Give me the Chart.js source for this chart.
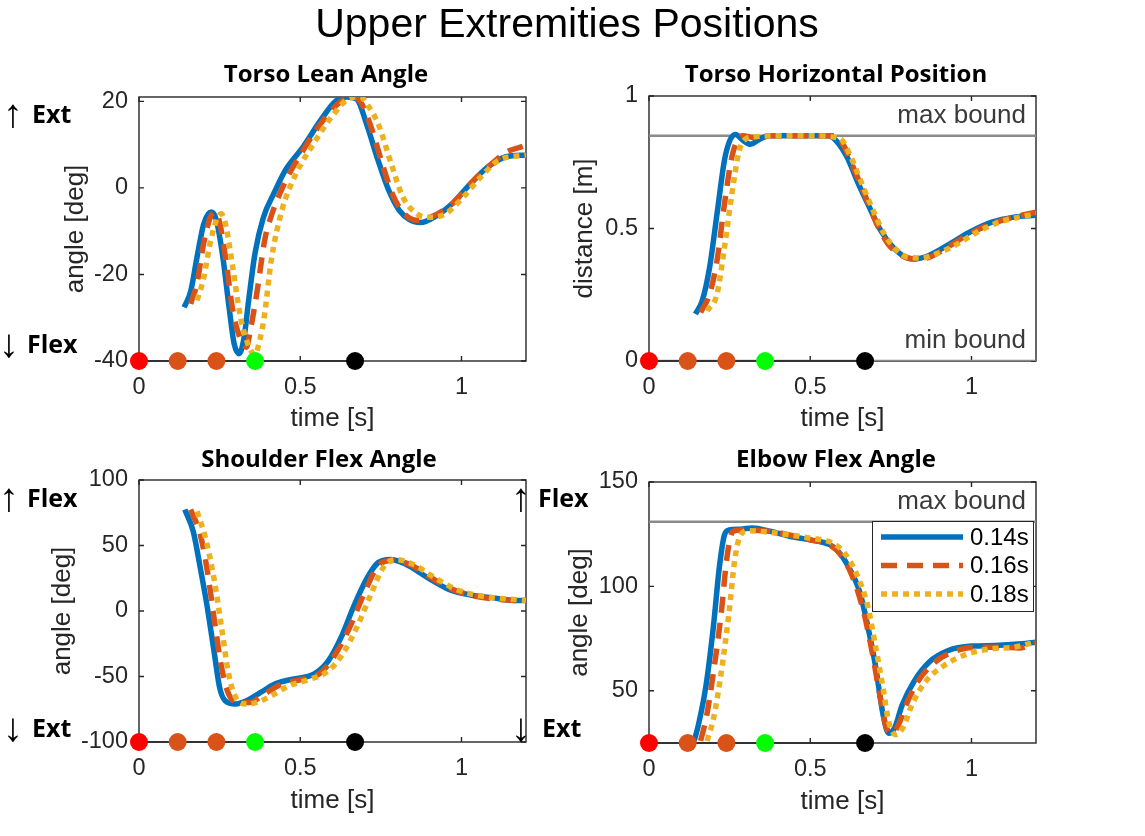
<!DOCTYPE html>
<html>
<head>
<meta charset="utf-8">
<title>Upper Extremities Positions</title>
<script src="https://cdn.jsdelivr.net/npm/chart.js@4.4.1/dist/chart.umd.min.js"></script>
<style>
  html, body { margin: 0; padding: 0; background: #fff; }
  #page { position: relative; width: 1145px; height: 836px; overflow: hidden; }
  #page canvas { position: absolute; }
  #labels { position: absolute; left: 0; top: 0; pointer-events: none; }
  .ttl { font-family: 'Open Sans', sans-serif; font-weight: 700; font-size: 24px; fill: #000; }
  .side { font-family: 'Open Sans', sans-serif; font-weight: 700; font-size: 25px; fill: #000; }
  .arrow { font-family: 'Liberation Sans', Arial, sans-serif; font-weight: 400; font-size: 40px; }
</style>
</head>
<body>
<div id="page">
  <canvas id="lean" width="560" height="390" style="left:0;top:50px"></canvas>
  <canvas id="horiz" width="585" height="390" style="left:560px;top:50px"></canvas>
  <canvas id="shoulder" width="560" height="396" style="left:0;top:440px"></canvas>
  <canvas id="elbow" width="585" height="396" style="left:560px;top:440px"></canvas>

  <svg id="labels" width="1145" height="836">
    <text x="567" y="37" text-anchor="middle" font-family="'Liberation Sans', Arial, sans-serif" font-size="41">Upper Extremities Positions</text>

    <text class="ttl" x="326" y="82" text-anchor="middle">Torso Lean Angle</text>
    <text class="ttl" x="836" y="82" text-anchor="middle">Torso Horizontal Position</text>
    <text class="ttl" x="319" y="467" text-anchor="middle">Shoulder Flex Angle</text>
    <text class="ttl" x="836" y="467" text-anchor="middle">Elbow Flex Angle</text>

    <text class="side" y="123"><tspan class="arrow" x="3" dy="4">↑</tspan><tspan x="32" dy="-4">Ext</tspan></text>
    <text class="side" y="353"><tspan class="arrow" x="-1" dy="4">↓</tspan><tspan x="27" dy="-4">Flex</tspan></text>
    <text class="side" y="507"><tspan class="arrow" x="-1" dy="4">↑</tspan><tspan x="27" dy="-4">Flex</tspan></text>
    <text class="side" y="737"><tspan class="arrow" x="3" dy="4">↓</tspan><tspan x="32" dy="-4">Ext</tspan></text>
    <text class="side" y="507"><tspan class="arrow" x="511" dy="4">↑</tspan><tspan x="538" dy="-4">Flex</tspan></text>
    <text class="side" y="737"><tspan class="arrow" x="511" dy="4">↓</tspan><tspan x="542" dy="-4">Ext</tspan></text>
  </svg>
</div>

<script>
const FONT = "'Liberation Sans', Arial, Helvetica, sans-serif";
const AXIS_COLOR = '#262626';

// series: start time of each run
const seriesLabels = ['0.14s', '0.16s', '0.18s'];
const seriesColors = ['#0072BD', '#D95319', '#EDB120'];
const seriesDash = [[], [16, 10], [6, 5]];

const timeTicks = [0, 0.5, 1];

// phase events along the time axis
const eventTimes = [0, 0.12, 0.24, 0.36, 0.67];
const eventColors = ['#FF0000', '#D95319', '#D95319', '#00FF00', '#000000'];

// Torso lean angle [deg]
const leanTicks = [-40, -20, 0, 20];
const leanT1 = [0.14, 0.16, 0.18, 0.2, 0.215, 0.225, 0.24, 0.26, 0.28, 0.295, 0.31, 0.325, 0.34, 0.36, 0.385, 0.42, 0.454, 0.509, 0.564, 0.609, 0.645, 0.675, 0.708, 0.741, 0.774, 0.807, 0.84, 0.873, 0.917, 0.972, 1.028, 1.083, 1.138, 1.2];
const leanY1 = [-27.6, -24, -16, -8.5, -6, -5.6, -7.5, -16, -28, -36, -38.3, -35, -26, -15, -7, -1, 4.1, 9.5, 15.7, 20, 21, 20.5, 14.2, 6.4, -0.5, -5.2, -7.4, -8, -6.7, -3.6, 1, 4.9, 7.2, 7.6];
const leanT2 = [0.16, 0.18, 0.2, 0.22, 0.234, 0.25, 0.27, 0.29, 0.31, 0.333, 0.345, 0.366, 0.39, 0.41, 0.454, 0.509, 0.564, 0.62, 0.664, 0.69, 0.719, 0.757, 0.785, 0.818, 0.862, 0.906, 0.972, 1.028, 1.083, 1.138, 1.19];
const leanY2 = [-26.8, -22, -13, -7, -5.6, -8, -17, -28, -34, -36.8, -33, -24, -12, -6.5, 1.5, 8.7, 14.9, 19.6, 21, 19.5, 14.2, 4.9, -1.3, -5.6, -7.5, -6.7, -3.6, 1, 4.9, 8.2, 9.6];
const leanT3 = [0.18, 0.2, 0.22, 0.24, 0.255, 0.27, 0.29, 0.315, 0.34, 0.36, 0.375, 0.388, 0.41, 0.443, 0.487, 0.542, 0.598, 0.653, 0.686, 0.71, 0.741, 0.785, 0.818, 0.862, 0.895, 0.95, 1.006, 1.061, 1.116, 1.2];
const leanY3 = [-26, -21, -13, -7.5, -6, -9, -18, -30, -36.5, -38.5, -35, -30, -16.8, -5.2, 3.3, 10.3, 16.5, 20.7, 21, 19, 14.9, 4.9, -2.1, -6, -6.8, -6, -2.1, 2.6, 6.4, 7.6];

// Torso horizontal position [m]
const horizTicks = [0, 0.5, 1];
const horizBounds = [0.85, 0];
const horizT1 = [0.144, 0.165, 0.188, 0.211, 0.234, 0.251, 0.268, 0.291, 0.315, 0.338, 0.372, 0.45, 0.556, 0.579, 0.614, 0.649, 0.683, 0.718, 0.752, 0.787, 0.821, 0.868, 0.925, 0.994, 1.063, 1.132, 1.2];
const horizY1 = [0.177, 0.227, 0.354, 0.556, 0.758, 0.833, 0.855, 0.833, 0.818, 0.833, 0.85, 0.85, 0.85, 0.833, 0.77, 0.669, 0.581, 0.494, 0.436, 0.398, 0.385, 0.398, 0.436, 0.486, 0.524, 0.543, 0.55];
const horizT2 = [0.16, 0.188, 0.211, 0.234, 0.257, 0.274, 0.291, 0.326, 0.36, 0.45, 0.575, 0.603, 0.637, 0.672, 0.706, 0.741, 0.775, 0.821, 0.868, 0.925, 0.994, 1.063, 1.132, 1.2];
const horizY2 = [0.183, 0.253, 0.379, 0.593, 0.77, 0.833, 0.85, 0.843, 0.85, 0.85, 0.85, 0.814, 0.72, 0.619, 0.518, 0.442, 0.404, 0.385, 0.391, 0.429, 0.48, 0.518, 0.543, 0.562];
const horizT3 = [0.18, 0.211, 0.234, 0.257, 0.28, 0.303, 0.326, 0.4, 0.5, 0.591, 0.626, 0.66, 0.695, 0.729, 0.764, 0.804, 0.844, 0.89, 0.948, 1.017, 1.086, 1.2];
const horizY3 = [0.189, 0.253, 0.429, 0.631, 0.795, 0.84, 0.846, 0.85, 0.85, 0.84, 0.77, 0.669, 0.568, 0.48, 0.423, 0.391, 0.389, 0.404, 0.436, 0.486, 0.524, 0.556];

// Shoulder flex angle [deg]
const shoulderTicks = [-100, -50, 0, 50, 100];
const shoulderT1 = [0.142, 0.168, 0.19, 0.212, 0.234, 0.25, 0.267, 0.3, 0.333, 0.377, 0.421, 0.476, 0.542, 0.587, 0.631, 0.664, 0.708, 0.741, 0.78, 0.829, 0.895, 0.961, 1.028, 1.094, 1.165, 1.2];
const shoulderY1 = [77.4, 60.9, 33, 2.5, -33, -58.4, -68.5, -71, -68.5, -62.2, -55.8, -52, -48.2, -38, -17.8, 2.5, 25.4, 36.8, 39.3, 35.5, 25.4, 16.5, 12.2, 10.2, 8.1, 8];
const shoulderT2 = [0.16, 0.19, 0.212, 0.234, 0.256, 0.278, 0.311, 0.344, 0.388, 0.443, 0.509, 0.564, 0.609, 0.653, 0.697, 0.741, 0.785, 0.84, 0.906, 0.972, 1.039, 1.116, 1.2];
const shoulderY2 = [77.4, 58.4, 30.5, -7.6, -43, -63.5, -69.8, -69.8, -63.5, -55.8, -52, -47, -33, -12.7, 12.7, 34.3, 38.6, 35.5, 25.4, 16.5, 11.4, 8.9, 7.6];
const shoulderT3 = [0.18, 0.206, 0.234, 0.256, 0.278, 0.3, 0.333, 0.366, 0.41, 0.465, 0.531, 0.587, 0.631, 0.675, 0.719, 0.757, 0.796, 0.851, 0.917, 0.983, 1.061, 1.2];
const shoulderY3 = [76.1, 55.8, 22.8, -12.7, -48.2, -66, -71, -69.8, -64.7, -57.1, -52, -45.7, -33, -12.7, 12.7, 33, 39.3, 35.5, 25.4, 16.5, 11.4, 8.1];

// Elbow flex angle [deg]
const elbowTicks = [50, 100, 150];
const elbowBounds = [131];
const elbowT1 = [0.14, 0.153, 0.177, 0.2, 0.218, 0.234, 0.248, 0.284, 0.32, 0.379, 0.439, 0.5, 0.56, 0.582, 0.618, 0.654, 0.678, 0.702, 0.726, 0.743, 0.761, 0.785, 0.821, 0.869, 0.928, 1.0, 1.072, 1.155, 1.2];
const elbowY1 = [26, 33.5, 52.7, 81.2, 109, 124.7, 127, 127.4, 128, 126.3, 123.9, 122.3, 120, 117.6, 109.7, 97, 81.2, 62.2, 38.4, 29.7, 32, 43.2, 54.3, 63.8, 69.3, 71.4, 71.7, 72.5, 73.3];
const elbowT2 = [0.16, 0.177, 0.2, 0.224, 0.242, 0.26, 0.284, 0.379, 0.5, 0.558, 0.594, 0.63, 0.666, 0.69, 0.714, 0.737, 0.755, 0.773, 0.797, 0.833, 0.881, 0.94, 1.012, 1.095, 1.149, 1.2];
const elbowY2 = [26, 36.7, 58.9, 87.3, 114.3, 126.3, 127, 126.3, 122.3, 120, 115.2, 105, 87.5, 70.1, 49.5, 32, 29.7, 33.5, 43.2, 54.3, 63, 68.5, 70.9, 70.9, 70.5, 73];
const elbowT3 = [0.18, 0.2, 0.224, 0.248, 0.266, 0.284, 0.308, 0.379, 0.5, 0.57, 0.606, 0.642, 0.678, 0.702, 0.726, 0.743, 0.767, 0.791, 0.815, 0.857, 0.916, 0.988, 1.06, 1.131, 1.2];
const elbowY3 = [26, 36.7, 58.9, 87.3, 112.7, 124.7, 126.7, 125.8, 123.1, 120.7, 116, 106.5, 90.7, 71.7, 51.1, 35.3, 29, 33.5, 43.2, 54.3, 62.2, 67.7, 70.1, 70.9, 73.3];

const pts = (t, v) => t.map((x, i) => ({ x: x, y: v[i] }));

// box around the plot area with inward ticks on all four sides
const axesBox = {
  id: 'axesBox',
  beforeDatasetsDraw(chart) {
    const { ctx, chartArea: a } = chart;
    const xs = chart.scales.x, ys = chart.scales.y;
    ctx.save();
    ctx.strokeStyle = AXIS_COLOR;
    ctx.lineWidth = 1.4;
    ctx.strokeRect(a.left, a.top, a.right - a.left, a.bottom - a.top);
    ctx.beginPath();
    xs.ticks.forEach(t => {
      const px = xs.getPixelForValue(t.value);
      ctx.moveTo(px, a.bottom); ctx.lineTo(px, a.bottom - 5);
      ctx.moveTo(px, a.top); ctx.lineTo(px, a.top + 5);
    });
    ys.ticks.forEach(t => {
      const py = ys.getPixelForValue(t.value);
      ctx.moveTo(a.left, py); ctx.lineTo(a.left + 5, py);
      ctx.moveTo(a.right, py); ctx.lineTo(a.right - 5, py);
    });
    ctx.stroke();
    ctx.restore();
  }
};

// "max bound" / "min bound" captions sitting on the bound lines
const boundText = {
  id: 'boundText',
  beforeDatasetsDraw(chart, args, opts) {
    if (!opts.items) return;
    const { ctx, chartArea: a } = chart;
    const ys = chart.scales.y;
    ctx.save();
    ctx.font = '26px ' + FONT;
    ctx.fillStyle = '#3a3a3a';
    ctx.textAlign = 'right';
    ctx.textBaseline = 'alphabetic';
    opts.items.forEach(it => ctx.fillText(it.text, a.right - 10, ys.getPixelForValue(it.value) - 13));
    ctx.restore();
  }
};

// legend box inside the plot, under the max bound line
const innerLegend = {
  id: 'innerLegend',
  afterDraw(chart, args, opts) {
    if (!opts.display) return;
    const { ctx, chartArea: a } = chart;
    const left = a.right - 164, top = a.top + 39, w = 161, h = 90;
    ctx.save();
    ctx.fillStyle = '#fff';
    ctx.fillRect(left, top, w, h);
    ctx.strokeStyle = AXIS_COLOR;
    ctx.lineWidth = 1;
    ctx.strokeRect(left + 0.5, top + 0.5, w, h);
    ctx.font = '24px ' + FONT;
    ctx.textBaseline = 'middle';
    ctx.fillStyle = '#000';
    chart.data.datasets.filter(d => d.label).forEach((d, i) => {
      const y = top + 16 + i * 28.5;
      ctx.beginPath();
      ctx.strokeStyle = d.borderColor;
      ctx.lineWidth = d.borderWidth;
      ctx.setLineDash(d.borderDash);
      ctx.moveTo(left + 9, y);
      ctx.lineTo(left + 91, y);
      ctx.stroke();
      ctx.fillText(d.label, left + 98, y + 1);
    });
    ctx.restore();
  }
};

function makeChart(id, p) {
  const datasets = p.t.map((t, i) => ({
    label: seriesLabels[i],
    data: pts(t, p.v[i]),
    borderColor: seriesColors[i],
    borderWidth: 5.5,
    borderDash: seriesDash[i],
    pointRadius: 0,
    cubicInterpolationMode: 'monotone',
    order: 3 - i
  }));
  (p.bounds || []).forEach(b => datasets.push({
    data: [{ x: 0, y: b }, { x: 1.2, y: b }],
    borderColor: '#8a8a8a',
    borderWidth: 2.5,
    pointRadius: 0,
    order: 6
  }));
  datasets.push({
    data: eventTimes.map(t => ({ x: t, y: p.yMin })),
    borderColor: '#333',
    borderWidth: 2,
    pointRadius: 9,
    pointBorderWidth: 0,
    pointBackgroundColor: eventColors,
    clip: false,
    order: 0
  });

  const tickFont = { family: FONT, size: 23.5 };
  const titleFont = { family: FONT, size: 26 };
  const plain = v => String(v);

  return new Chart(document.getElementById(id), {
    type: 'line',
    data: { datasets: datasets },
    plugins: [axesBox, boundText, innerLegend],
    options: {
      responsive: false,
      animation: false,
      devicePixelRatio: 1,
      locale: 'en-US',
      layout: { padding: p.pad },
      plugins: {
        legend: { display: false },
        tooltip: { enabled: false },
        boundText: { items: p.boundLabels },
        innerLegend: { display: !!p.legend }
      },
      scales: {
        x: {
          type: 'linear', min: 0, max: 1.2,
          grid: { display: false, drawTicks: false },
          border: { display: false },
          ticks: { font: tickFont, color: AXIS_COLOR, padding: 12, maxRotation: 0, callback: plain },
          title: { display: true, text: 'time [s]', font: titleFont, color: AXIS_COLOR, padding: 0 },
          afterBuildTicks: s => { s.ticks = timeTicks.map(v => ({ value: v })); },
          afterFit: s => { s.height = p.xH; }
        },
        y: {
          type: 'linear', min: p.yMin, max: p.yMax,
          grid: { display: false, drawTicks: false },
          border: { display: false },
          ticks: { font: tickFont, color: AXIS_COLOR, padding: 11, callback: plain },
          title: { display: true, text: p.yTitle, font: titleFont, color: AXIS_COLOR, padding: 0 },
          afterBuildTicks: s => { s.ticks = p.yTicks.map(v => ({ value: v })); },
          afterFit: s => { s.width = p.yW; }
        }
      }
    }
  });
}

makeChart('lean', {
  t: [leanT1, leanT2, leanT3], v: [leanY1, leanY2, leanY3],
  yMin: -40, yMax: 21, yTicks: leanTicks, yTitle: 'angle [deg]',
  pad: { left: 60, top: 47, right: 34, bottom: 6 }, yW: 79, xH: 73
});

makeChart('horiz', {
  t: [horizT1, horizT2, horizT3], v: [horizY1, horizY2, horizY3],
  yMin: 0, yMax: 1, yTicks: horizTicks, yTitle: 'distance [m]',
  bounds: horizBounds,
  boundLabels: [{ text: 'max bound', value: horizBounds[0] }, { text: 'min bound', value: horizBounds[1] }],
  pad: { left: 9, top: 46, right: 109, bottom: 6 }, yW: 80, xH: 73
});

makeChart('shoulder', {
  t: [shoulderT1, shoulderT2, shoulderT3], v: [shoulderY1, shoulderY2, shoulderY3],
  yMin: -100, yMax: 100, yTicks: shoulderTicks, yTitle: 'angle [deg]',
  pad: { left: 47, top: 40, right: 34, bottom: 20 }, yW: 92, xH: 74
});

makeChart('elbow', {
  t: [elbowT1, elbowT2, elbowT3], v: [elbowY1, elbowY2, elbowY3],
  yMin: 25, yMax: 150, yTicks: elbowTicks, yTitle: 'angle [deg]',
  bounds: elbowBounds,
  boundLabels: [{ text: 'max bound', value: elbowBounds[0] }],
  legend: true,
  pad: { left: 4, top: 42, right: 109, bottom: 19 }, yW: 85, xH: 74
});
</script>
</body>
</html>
